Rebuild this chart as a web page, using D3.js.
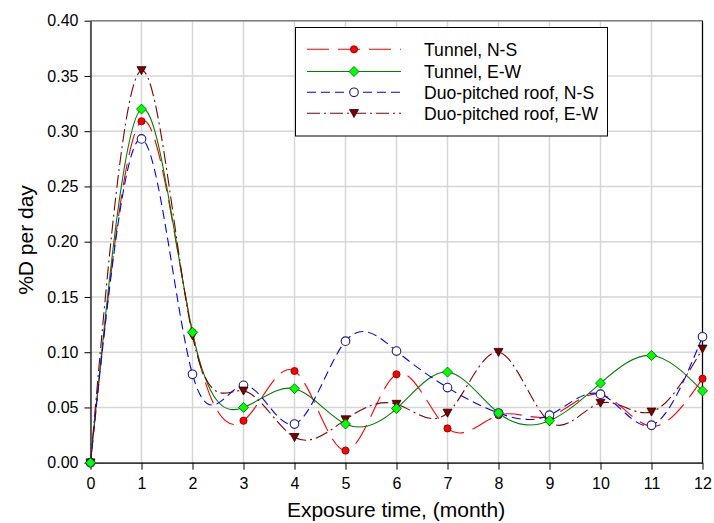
<!DOCTYPE html>
<html>
<head>
<meta charset="utf-8">
<script src="https://cdn.jsdelivr.net/npm/d3@7"></script>
<style>
  html, body { margin: 0; padding: 0; background: #fff; }
  svg { display: block; font-family: "Liberation Sans", Arial, sans-serif; }
</style>
</head>
<body>
<svg id="chart" width="714" height="523"></svg>
<script>
// Exposure months and daily %D for each greenhouse type / orientation
const months = [0, 1, 2, 3, 4, 5, 6, 7, 8, 9, 10, 11, 12];
const tunnelNS = [0, 0.309, 0.118, 0.038, 0.083, 0.011, 0.080, 0.031, 0.043, 0.042, 0.062, 0.033, 0.076];
const tunnelEW = [0, 0.320, 0.118, 0.050, 0.067, 0.035, 0.049, 0.082, 0.045, 0.038, 0.072, 0.097, 0.065];
const duoNS    = [0, 0.293, 0.080, 0.070, 0.035, 0.110, 0.101, 0.068, 0.045, 0.043, 0.062, 0.034, 0.114];
const duoEW    = [0, 0.355, 0.115, 0.065, 0.023, 0.039, 0.053, 0.045, 0.100, 0.037, 0.054, 0.046, 0.103];
const seriesNames = ["Tunnel, N-S", "Tunnel, E-W", "Duo-pitched roof, N-S", "Duo-pitched roof, E-W"];
const yTicks = [0, 0.05, 0.10, 0.15, 0.20, 0.25, 0.30, 0.35, 0.40];

const svg = d3.select("#chart");
const x = d3.scaleLinear().domain([0, 12]).range([90.5, 702.5]);
const y = d3.scaleLinear().domain([0, 0.4]).range([462.7, 20.7]);

// series styling
const series = [
  { name: seriesNames[0], values: tunnelNS, color: "#ff0000", dash: "22,9", marker: "dot" },
  { name: seriesNames[1], values: tunnelEW, color: "#008000", dash: null, marker: "diamond" },
  { name: seriesNames[2], values: duoNS, color: "#0000ff", dash: "9,5", marker: "open" },
  { name: seriesNames[3], values: duoEW, color: "#800000", dash: "13,4,2,4", marker: "tri" }
];

// grid
const grid = svg.append("g");
grid.selectAll("line.v").data(months).join("line")
  .attr("x1", d => x(d)).attr("x2", d => x(d))
  .attr("y1", y(0)).attr("y2", y(0.4))
  .attr("stroke", "#d6d6d6").attr("stroke-width", 1.5);
grid.selectAll("line.h").data(yTicks).join("line")
  .attr("x1", x(0)).attr("x2", x(12))
  .attr("y1", d => y(d)).attr("y2", d => y(d))
  .attr("stroke", "#d6d6d6").attr("stroke-width", 1.5);

// frame: grey top, black right
svg.append("line").attr("x1", x(0)).attr("x2", x(12)).attr("y1", y(0.4)).attr("y2", y(0.4))
  .attr("stroke", "#7f7f7f").attr("stroke-width", 1.5);
svg.append("line").attr("x1", x(12)).attr("x2", x(12)).attr("y1", y(0.4)).attr("y2", y(0))
  .attr("stroke", "#000").attr("stroke-width", 1.2);

// axes
const xAxis = svg.append("g").attr("transform", `translate(0,${y(0)})`)
  .call(d3.axisBottom(x).tickValues(months).tickFormat(d3.format("d")).tickSize(7).tickPadding(8).tickSizeOuter(0));
const yAxis = svg.append("g").attr("transform", `translate(${x(0)},0)`)
  .call(d3.axisLeft(y).tickValues(yTicks).tickFormat(d3.format(".2f")).tickSize(6).tickPadding(6).tickSizeOuter(0));
[xAxis, yAxis].forEach(a => {
  a.select(".domain").attr("stroke", "#000").attr("stroke-width", 1.2);
  a.selectAll(".tick line").attr("stroke", "#000").attr("stroke-width", 1);
  a.selectAll(".tick text").attr("font-size", 16).attr("fill", "#000")
    .attr("font-family", "'Liberation Sans', Arial, sans-serif");
});

// axis titles
svg.append("text").attr("x", 396).attr("y", 517).attr("text-anchor", "middle")
  .attr("font-size", 21).text("Exposure time, (month)");
svg.append("text").attr("transform", "translate(33,240) rotate(-90)").attr("text-anchor", "middle")
  .attr("font-size", 21).text("%D per day");

// curves
const line = d3.line().x((d, i) => x(months[i])).y(d => y(d)).curve(d3.curveNatural);
const lines = svg.append("g");
series.forEach(s => {
  lines.append("path").datum(s.values)
    .attr("d", line).attr("fill", "none")
    .attr("stroke", s.color).attr("stroke-width", 1.1)
    .attr("stroke-dasharray", s.dash);
});

// marker drawing
function drawMarker(g, type, cx, cy) {
  if (type === "dot") {
    g.append("circle").attr("cx", cx).attr("cy", cy).attr("r", 3.6)
      .attr("fill", "#ff0000").attr("stroke", "#7a0000").attr("stroke-width", 0.8);
  } else if (type === "diamond") {
    const h = 5;
    g.append("path").attr("d", `M${cx},${cy - h}L${cx + h},${cy}L${cx},${cy + h}L${cx - h},${cy}Z`)
      .attr("fill", "#00ff00").attr("stroke", "#006400").attr("stroke-width", 0.8);
  } else if (type === "open") {
    g.append("circle").attr("cx", cx).attr("cy", cy).attr("r", 4.3)
      .attr("fill", "#fff").attr("stroke", "#1a1a8c").attr("stroke-width", 1.1);
  } else {
    const w = 4.5;
    g.append("path").attr("d", `M${cx - w},${cy - 3.8}L${cx + w},${cy - 3.8}L${cx},${cy + 4.2}Z`)
      .attr("fill", "#7a0000").attr("stroke", "#2a0000").attr("stroke-width", 0.8);
  }
}

const markers = svg.append("g");
[0, 2, 3, 1].forEach(k => {
  const s = series[k];
  s.values.forEach((v, i) => drawMarker(markers, s.marker, x(months[i]), y(v)));
});

// legend
const lg = svg.append("g");
lg.append("rect").attr("x", 295.5).attr("y", 27.5).attr("width", 312).attr("height", 108.5)
  .attr("fill", "#fff").attr("stroke", "#000").attr("stroke-width", 1);
const rowY = [49.3, 71.5, 92.3, 113.3];
series.forEach((s, k) => {
  lg.append("line").attr("x1", 307).attr("x2", 401).attr("y1", rowY[k]).attr("y2", rowY[k])
    .attr("stroke", s.color).attr("stroke-width", 1.1).attr("stroke-dasharray", s.dash);
  drawMarker(lg, s.marker, 354, rowY[k]);
  lg.append("text").attr("x", 424).attr("y", rowY[k] + 6.3).attr("font-size", 17.6).attr("fill", "#000")
    .text(s.name);
});
</script>
</body>
</html>
